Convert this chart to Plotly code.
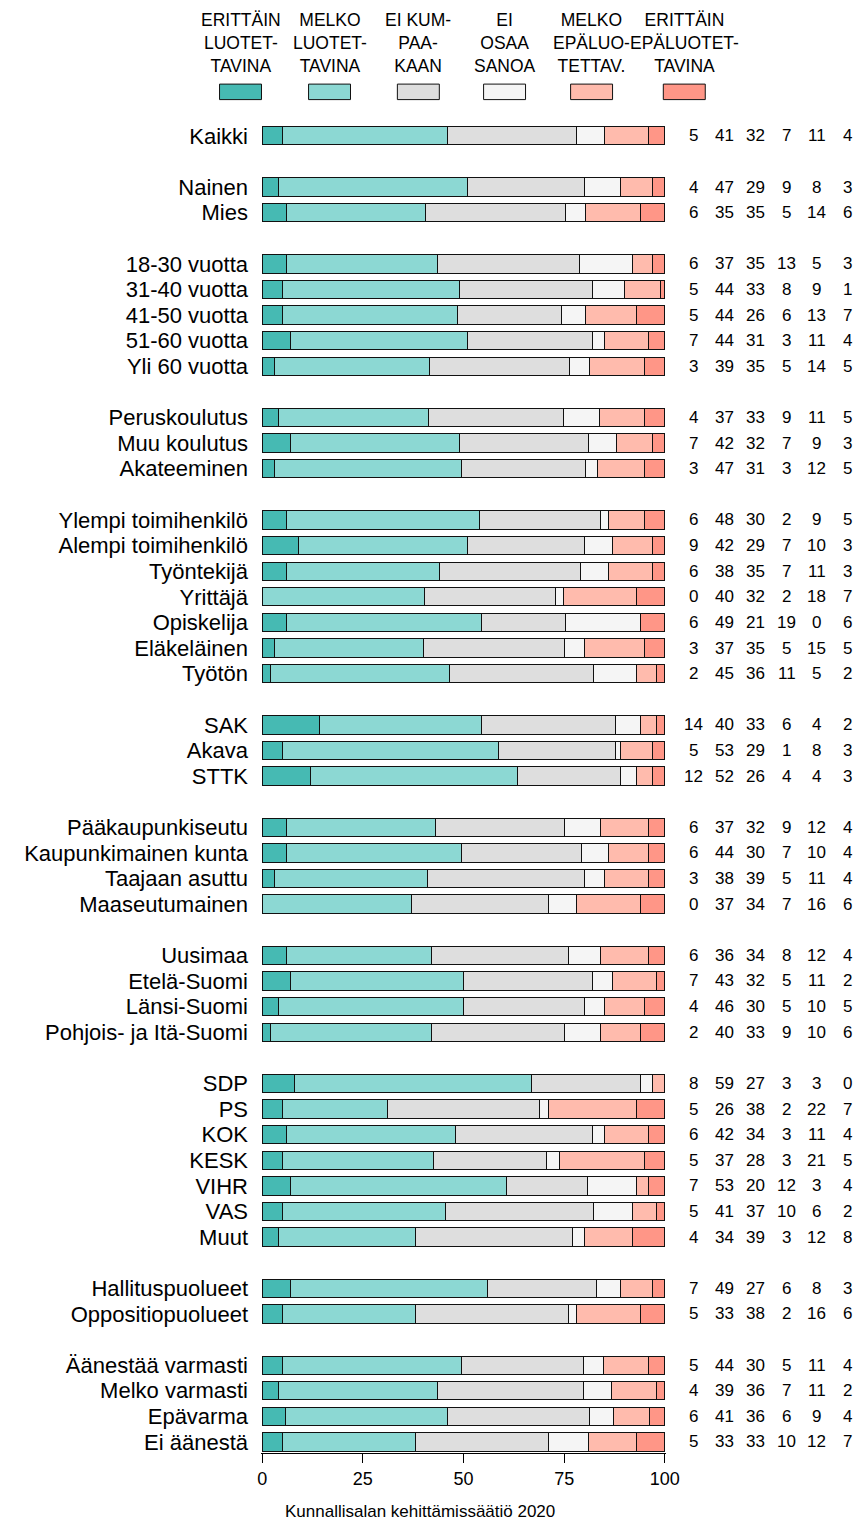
import plotly.graph_objects as go

# ---------------- data ----------------
categories = ["ERITTÄIN<br>LUOTET-<br>TAVINA", "MELKO<br>LUOTET-<br>TAVINA", "EI KUM-<br>PAA-<br>KAAN",
              "EI<br>OSAA<br>SANOA", "MELKO<br>EPÄLUO-<br>TETTAV.", "ERITTÄIN<br>EPÄLUOTET-<br>TAVINA"]
colors = ["#46BAB3", "#8CD8D3", "#DEDEDE", "#F5F5F5", "#FFBBAD", "#FF9687"]

groups = [
    ["Kaikki"],
    ["Nainen", "Mies"],
    ["18-30 vuotta", "31-40 vuotta", "41-50 vuotta", "51-60 vuotta", "Yli 60 vuotta"],
    ["Peruskoulutus", "Muu koulutus", "Akateeminen"],
    ["Ylempi toimihenkilö", "Alempi toimihenkilö", "Työntekijä", "Yrittäjä", "Opiskelija",
     "Eläkeläinen", "Työtön"],
    ["SAK", "Akava", "STTK"],
    ["Pääkaupunkiseutu", "Kaupunkimainen kunta", "Taajaan asuttu", "Maaseutumainen"],
    ["Uusimaa", "Etelä-Suomi", "Länsi-Suomi", "Pohjois- ja Itä-Suomi"],
    ["SDP", "PS", "KOK", "KESK", "VIHR", "VAS", "Muut"],
    ["Hallituspuolueet", "Oppositiopuolueet"],
    ["Äänestää varmasti", "Melko varmasti", "Epävarma", "Ei äänestä"],
]

values = {
    "Kaikki": [5, 41, 32, 7, 11, 4],
    "Nainen": [4, 47, 29, 9, 8, 3],
    "Mies": [6, 35, 35, 5, 14, 6],
    "18-30 vuotta": [6, 37, 35, 13, 5, 3],
    "31-40 vuotta": [5, 44, 33, 8, 9, 1],
    "41-50 vuotta": [5, 44, 26, 6, 13, 7],
    "51-60 vuotta": [7, 44, 31, 3, 11, 4],
    "Yli 60 vuotta": [3, 39, 35, 5, 14, 5],
    "Peruskoulutus": [4, 37, 33, 9, 11, 5],
    "Muu koulutus": [7, 42, 32, 7, 9, 3],
    "Akateeminen": [3, 47, 31, 3, 12, 5],
    "Ylempi toimihenkilö": [6, 48, 30, 2, 9, 5],
    "Alempi toimihenkilö": [9, 42, 29, 7, 10, 3],
    "Työntekijä": [6, 38, 35, 7, 11, 3],
    "Yrittäjä": [0, 40, 32, 2, 18, 7],
    "Opiskelija": [6, 49, 21, 19, 0, 6],
    "Eläkeläinen": [3, 37, 35, 5, 15, 5],
    "Työtön": [2, 45, 36, 11, 5, 2],
    "SAK": [14, 40, 33, 6, 4, 2],
    "Akava": [5, 53, 29, 1, 8, 3],
    "STTK": [12, 52, 26, 4, 4, 3],
    "Pääkaupunkiseutu": [6, 37, 32, 9, 12, 4],
    "Kaupunkimainen kunta": [6, 44, 30, 7, 10, 4],
    "Taajaan asuttu": [3, 38, 39, 5, 11, 4],
    "Maaseutumainen": [0, 37, 34, 7, 16, 6],
    "Uusimaa": [6, 36, 34, 8, 12, 4],
    "Etelä-Suomi": [7, 43, 32, 5, 11, 2],
    "Länsi-Suomi": [4, 46, 30, 5, 10, 5],
    "Pohjois- ja Itä-Suomi": [2, 40, 33, 9, 10, 6],
    "SDP": [8, 59, 27, 3, 3, 0],
    "PS": [5, 26, 38, 2, 22, 7],
    "KOK": [6, 42, 34, 3, 11, 4],
    "KESK": [5, 37, 28, 3, 21, 5],
    "VIHR": [7, 53, 20, 12, 3, 4],
    "VAS": [5, 41, 37, 10, 6, 2],
    "Muut": [4, 34, 39, 3, 12, 8],
    "Hallituspuolueet": [7, 49, 27, 6, 8, 3],
    "Oppositiopuolueet": [5, 33, 38, 2, 16, 6],
    "Äänestää varmasti": [5, 44, 30, 5, 11, 4],
    "Melko varmasti": [4, 39, 36, 7, 11, 2],
    "Epävarma": [6, 41, 36, 6, 9, 4],
    "Ei äänestä": [5, 33, 33, 10, 12, 7],
}

x_ticks = [0, 25, 50, 75, 100]
source_text = "Kunnallisalan kehittämissäätiö 2020"

# ---------------- layout geometry ----------------
W, H = 857, 1526
ML, MT, MB = 260.8, 122.9, 73.0
PW = 405.4
MR = W - ML - PW
PH = H - MT - MB
FONT = "Liberation Sans, Arial, sans-serif"

# row positions (a blank row between groups)
labels, pos = [], []
p = 0
for gi, g in enumerate(groups):
    for lab in g:
        labels.append(lab)
        pos.append(p)
        p += 1
    p += 1
last = pos[-1]
Y0, Y1 = last + 0.43, -0.5


def px2x(px):
    return (px - ML) / PW


def py2y(py):
    return 1 - (py - MT) / PH


def row2paper(r):
    return (Y0 - r) / (Y0 - Y1)


fig = go.Figure()
for k, (cat, col) in enumerate(zip(categories, colors)):
    xs = []
    for lab in labels:
        row = values[lab]
        tot = sum(row)
        xs.append(row[k] / tot * 100)
    fig.add_trace(go.Bar(
        y=pos, x=xs, orientation="h", name=cat,
        marker=dict(color=col, line=dict(color="#111111", width=1)),
        showlegend=False, hoverinfo="skip"))

annotations = []
# numbers on the right (pixel column centres)
num_cols_px = [694, 725, 756, 787, 817, 848]
for lab, yp in zip(labels, pos):
    for k, v in enumerate(values[lab]):
        annotations.append(dict(x=px2x(num_cols_px[k]), y=row2paper(yp), xref="paper", yref="paper",
                                text=str(v), showarrow=False, xanchor="center", yanchor="middle",
                                font=dict(size=17, color="black", family=FONT)))

shapes = []
leg_cx = [240.3, 329.4, 418.3, 504.6, 591.7, 684.5]
for cat, col, cx in zip(categories, colors, leg_cx):
    shapes.append(dict(type="rect", xref="paper", yref="paper",
                       x0=px2x(cx - 21), x1=px2x(cx + 21), y0=py2y(99.5), y1=py2y(84),
                       fillcolor=col, line=dict(color="#111111", width=1)))
    annotations.append(dict(x=px2x(cx), y=py2y(43), xref="paper", yref="paper", text=cat,
                            showarrow=False, xanchor="center", yanchor="middle", align="center",
                            font=dict(size=17.5, color="black", family=FONT)))

annotations.append(dict(x=px2x(420), y=py2y(1512), xref="paper", yref="paper", text=source_text,
                        showarrow=False, xanchor="center", yanchor="middle",
                        font=dict(size=17, color="black", family=FONT)))

fig.update_layout(
    width=W, height=H,
    margin=dict(l=ML, r=MR, t=MT, b=MB, pad=0),
    barmode="stack", bargap=0.285,
    plot_bgcolor="white", paper_bgcolor="white",
    font=dict(family=FONT, color="black"),
    xaxis=dict(range=[-0.3, 100.3], tickvals=x_ticks, ticks="outside", ticklen=9,
               tickcolor="black", showline=True, linecolor="black", linewidth=1,
               showgrid=False, zeroline=False, tickfont=dict(size=18, color="black"),
               fixedrange=True),
    yaxis=dict(range=[Y0, Y1], tickvals=pos, ticktext=labels, ticks="",
               showgrid=False, zeroline=False, showline=False,
               tickfont=dict(size=22, color="black"), ticklabelstandoff=12,
               fixedrange=True),
    annotations=annotations, shapes=shapes,
)

fig.write_html("out.html", config={"displayModeBar": False},
               post_script="document.body.style.margin='0';")
